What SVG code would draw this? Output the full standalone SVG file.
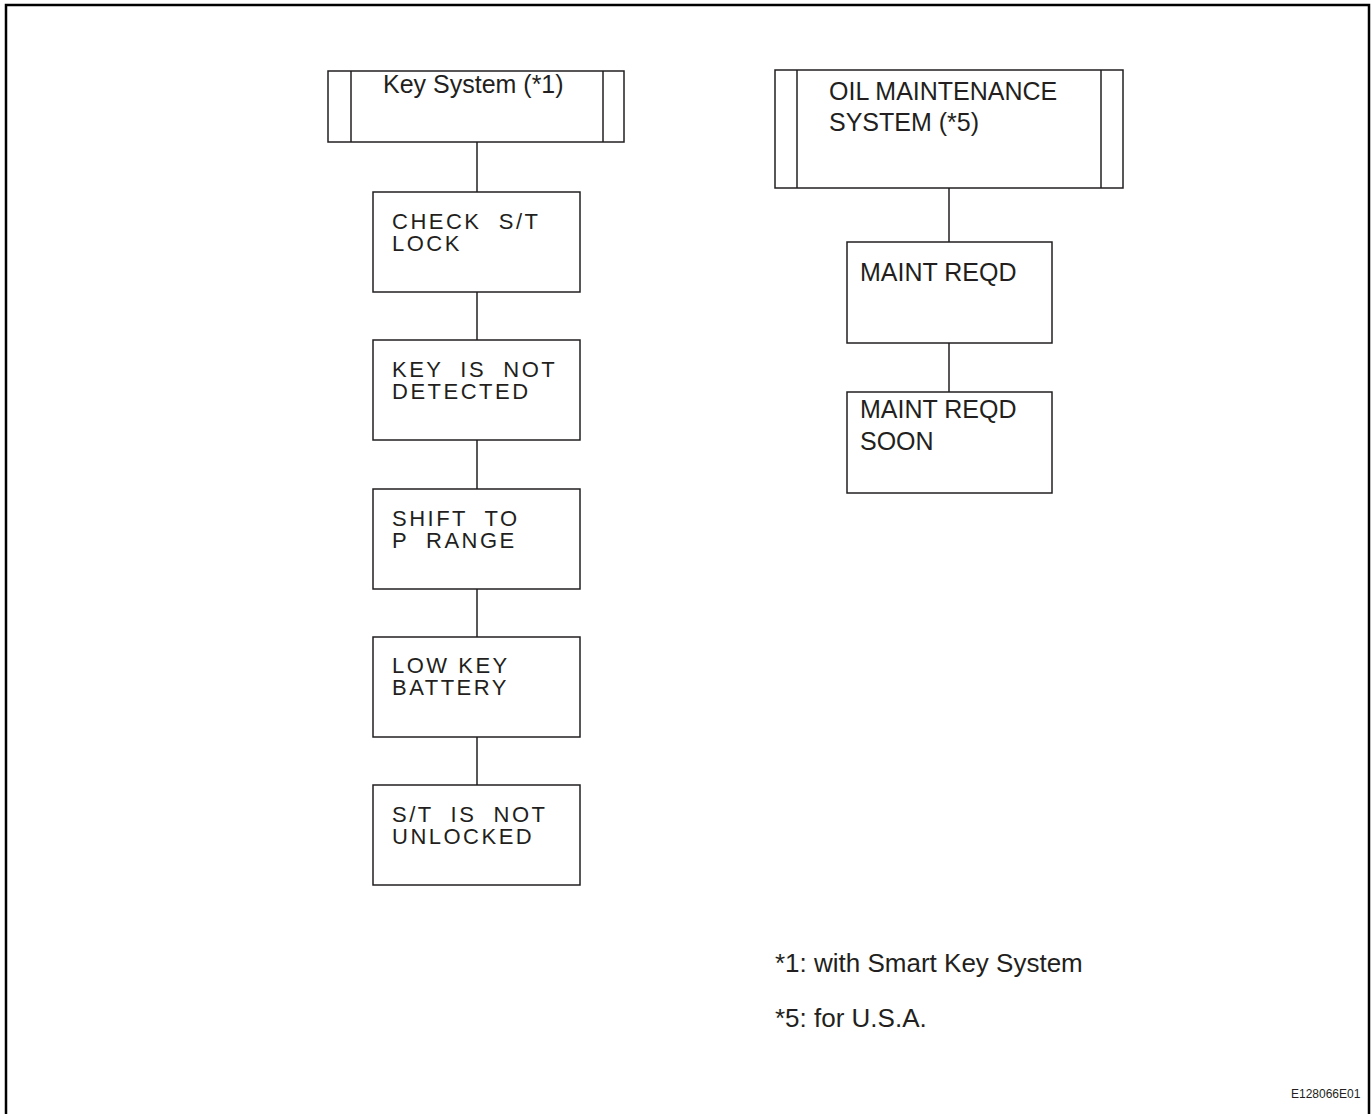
<svg xmlns="http://www.w3.org/2000/svg" width="1372" height="1114" viewBox="0 0 1372 1114">
<style>
.box{fill:#fff;stroke:#231f20;stroke-width:1.5}
.edge{stroke:#231f20;stroke-width:1.5;fill:none}
.t{font-family:"Liberation Sans",Arial,sans-serif;font-size:25px;fill:#231f20}
.n{font-family:"Liberation Sans",Arial,sans-serif;font-size:26px;fill:#231f20}
.m{font-family:"Liberation Sans",Arial,sans-serif;font-size:22px;letter-spacing:2.5px;fill:#231f20;white-space:pre}
.id{font-family:"Liberation Sans",Arial,sans-serif;font-size:12px;fill:#231f20}
</style>
<rect x="0" y="0" width="1372" height="1114" fill="#fff"/>
<rect x="6" y="5" width="1363" height="1120" fill="none" stroke="#000" stroke-width="2.5"/>
<g id="connectors">
<line class="edge" x1="477" y1="142" x2="477" y2="192"/>
<line class="edge" x1="477" y1="292" x2="477" y2="340"/>
<line class="edge" x1="477" y1="440" x2="477" y2="489"/>
<line class="edge" x1="477" y1="589" x2="477" y2="637"/>
<line class="edge" x1="477" y1="737" x2="477" y2="785"/>
<line class="edge" x1="949" y1="188" x2="949" y2="242"/>
<line class="edge" x1="949" y1="343" x2="949" y2="392"/>
</g>
<g id="key-system">
<rect class="box" x="328" y="71" width="296" height="71"/>
<line class="edge" x1="351" y1="71" x2="351" y2="142"/>
<line class="edge" x1="603" y1="71" x2="603" y2="142"/>
<text class="t" x="383" y="93">Key System (*1)</text>
</g>
<g id="check-st-lock">
<rect class="box" x="373" y="192" width="207" height="100"/>
<text class="m" x="392" y="229">CHECK  S/T</text>
<text class="m" x="392" y="251">LOCK</text>
</g>
<g id="key-not-detected">
<rect class="box" x="373" y="340" width="207" height="100"/>
<text class="m" x="392" y="377">KEY  IS  NOT</text>
<text class="m" x="392" y="399">DETECTED</text>
</g>
<g id="shift-to-p">
<rect class="box" x="373" y="489" width="207" height="100"/>
<text class="m" x="392" y="526">SHIFT  TO</text>
<text class="m" x="392" y="548">P  RANGE</text>
</g>
<g id="low-key-battery">
<rect class="box" x="373" y="637" width="207" height="100"/>
<text class="m" x="392" y="673">LOW KEY</text>
<text class="m" x="392" y="695">BATTERY</text>
</g>
<g id="st-not-unlocked">
<rect class="box" x="373" y="785" width="207" height="100"/>
<text class="m" x="392" y="822">S/T  IS  NOT</text>
<text class="m" x="392" y="844">UNLOCKED</text>
</g>
<g id="oil-maintenance">
<rect class="box" x="775" y="70" width="348" height="118"/>
<line class="edge" x1="797" y1="70" x2="797" y2="188"/>
<line class="edge" x1="1101" y1="70" x2="1101" y2="188"/>
<text class="t" x="829" y="100">OIL MAINTENANCE</text>
<text class="t" x="829" y="131">SYSTEM (*5)</text>
</g>
<g id="maint-reqd">
<rect class="box" x="847" y="242" width="205" height="101"/>
<text class="t" x="860" y="281">MAINT REQD</text>
</g>
<g id="maint-reqd-soon">
<rect class="box" x="847" y="392" width="205" height="101"/>
<text class="t" x="860" y="418">MAINT REQD</text>
<text class="t" x="860" y="450">SOON</text>
</g>
<g id="notes">
<text class="n" x="775" y="972">*1: with Smart Key System</text>
<text class="n" x="775" y="1027">*5: for U.S.A.</text>
<text class="id" x="1291" y="1098">E128066E01</text>
</g>
</svg>
